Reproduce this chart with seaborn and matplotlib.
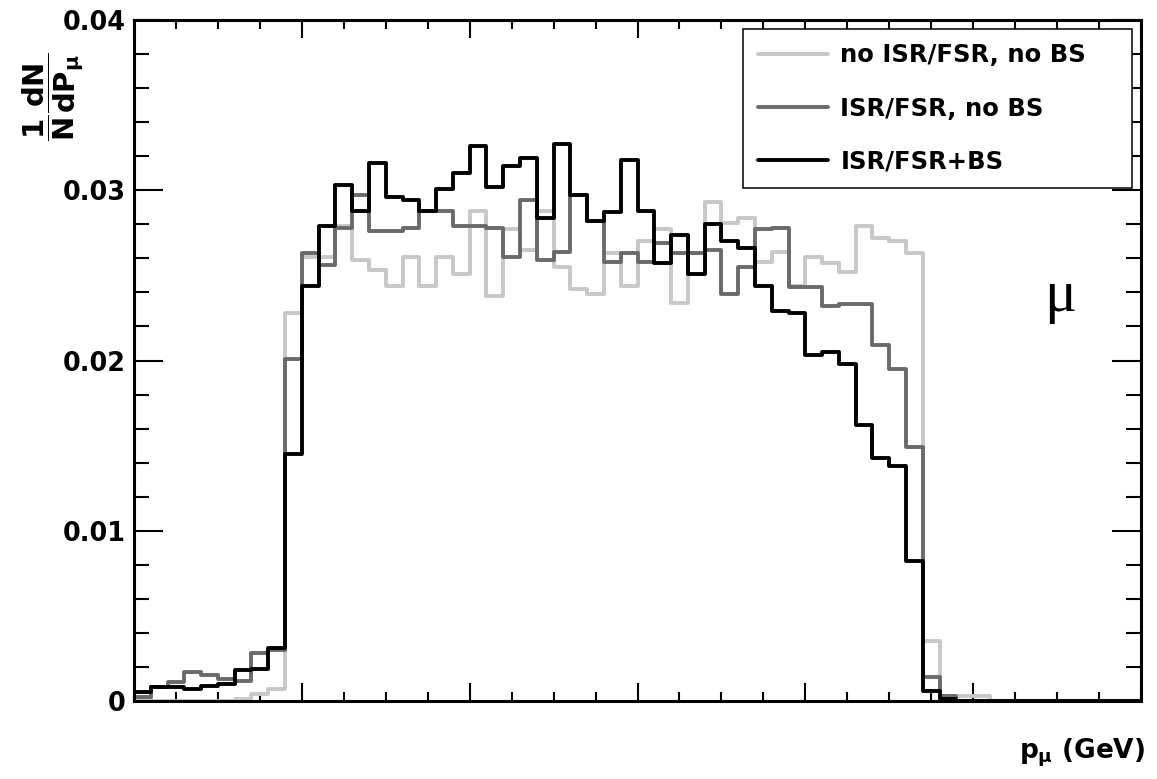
import numpy as np
import pandas as pd
import matplotlib
matplotlib.use("Agg")
import matplotlib.pyplot as plt
from matplotlib.lines import Line2D
from matplotlib.ticker import MultipleLocator
import seaborn as sns

# ---------------- data (bin contents) ----------------
bin_edges = list(range(0, 61))

no_isr_no_bs = [0.0002, 0.0, 0.0, 0.0, 0.0, 0.0, 0.0001, 0.0004, 0.0007, 0.0228,
                0.0261, 0.0261, 0.0279, 0.0259, 0.0253, 0.0244, 0.0261, 0.0244, 0.0261, 0.0251,
                0.0288, 0.0238, 0.0277, 0.0265, 0.0288, 0.0255, 0.0242, 0.0239, 0.0263, 0.0244,
                0.0270, 0.0277, 0.0234, 0.0263, 0.0293, 0.0281, 0.0284, 0.0258, 0.0264, 0.0244,
                0.0261, 0.0257, 0.0252, 0.0279, 0.0272, 0.0270, 0.0263, 0.0035, 0.0003, 0.0003,
                0.0003, 0.0, 0.0, 0.0, 0.0, 0.0, 0.0, 0.0, 0.0, 0.0]

isr_no_bs = [0.00025, 0.0008, 0.0011, 0.0017, 0.0015, 0.0013, 0.0012, 0.0028, 0.0030, 0.0201,
             0.0263, 0.0256, 0.0278, 0.0297, 0.0276, 0.0276, 0.0278, 0.0288, 0.0288, 0.0279,
             0.0279, 0.0278, 0.0261, 0.0294, 0.0259, 0.0264, 0.0297, 0.0282, 0.0258, 0.0263,
             0.0258, 0.0269, 0.0263, 0.0263, 0.0265, 0.0239, 0.0255, 0.0277, 0.0278, 0.0243,
             0.0243, 0.0232, 0.0233, 0.0233, 0.0209, 0.0195, 0.0149, 0.0014, 0.0003, 0.0,
             0.0, 0.0, 0.0, 0.0, 0.0, 0.0, 0.0, 0.0, 0.0, 0.0]

isr_bs = [0.00055, 0.0008, 0.0008, 0.0007, 0.0009, 0.0010, 0.0018, 0.0019, 0.0031, 0.0145,
          0.0244, 0.0279, 0.0303, 0.0288, 0.0316, 0.0296, 0.0294, 0.0288, 0.0301, 0.0310,
          0.0326, 0.0302, 0.0314, 0.0319, 0.0284, 0.0327, 0.0297, 0.0282, 0.0287, 0.0318,
          0.0288, 0.0257, 0.0274, 0.0251, 0.0280, 0.0270, 0.0266, 0.0244, 0.0229, 0.0228,
          0.0203, 0.0205, 0.0198, 0.0162, 0.0143, 0.0138, 0.0082, 0.0006, 0.0001, 0.0,
          0.0, 0.0, 0.0, 0.0, 0.0, 0.0, 0.0, 0.0, 0.0, 0.0]

series_labels = ["no ISR/FSR, no BS", "ISR/FSR, no BS", "ISR/FSR+BS"]
y_tick_values = [0, 0.01, 0.02, 0.03, 0.04]
y_tick_labels = ["0", "0.01", "0.02", "0.03", "0.04"]

# ---------------- style ----------------
sns.set_style("ticks")
plt.rcParams["font.family"] = ["DejaVu Sans"]
plt.rcParams["font.weight"] = "bold"
plt.rcParams["text.color"] = "black"
plt.rcParams["axes.labelcolor"] = "black"
plt.rcParams["xtick.color"] = "black"
plt.rcParams["ytick.color"] = "black"
plt.rcParams["mathtext.fontset"] = "custom"
plt.rcParams["mathtext.rm"] = "DejaVu Sans:bold"
plt.rcParams["mathtext.it"] = "DejaVu Sans:bold"
plt.rcParams["mathtext.bf"] = "DejaVu Sans:bold"

colors = ["#c8c8c8", "#6a6a6a", "#000000"]

edges_arr = np.array(bin_edges, dtype=float)
centers = (edges_arr[:-1] + edges_arr[1:]) / 2
df = pd.DataFrame({
    "p": np.tile(centers, 3),
    "w": np.concatenate([no_isr_no_bs, isr_no_bs, isr_bs]),
    "series": np.repeat(series_labels, len(centers)),
})

fig = plt.figure(figsize=(11.57, 7.79), dpi=100)
ax = fig.add_axes([0.1158, 0.1001, 0.8704, 0.8742])

for lab, col in zip(series_labels, colors):
    sns.histplot(data=df[df["series"] == lab], x="p", weights="w", bins=bin_edges,
                 element="step", fill=False, color=col, linewidth=2.8, ax=ax)

ax.set_xlim(0, 60)
ax.set_ylim(0, 0.04)
ax.set_xlabel("")
ax.set_ylabel("")

ax.xaxis.set_major_locator(MultipleLocator(10))
ax.xaxis.set_minor_locator(MultipleLocator(2.5))
ax.set_yticks(y_tick_values)
ax.set_yticklabels(y_tick_labels)
ax.yaxis.set_minor_locator(MultipleLocator(0.002))

ax.tick_params(axis="both", which="both", direction="in", top=True, right=True,
               labelbottom=False, width=1.5, color="black", labelcolor="black")
ax.tick_params(axis="x", which="major", length=13)
ax.tick_params(axis="x", which="minor", length=6.5)
ax.tick_params(axis="y", which="major", length=21, labelsize=18.4, pad=6)
ax.tick_params(axis="y", which="minor", length=11)
for lbl in ax.get_yticklabels():
    lbl.set_fontweight("bold")
    lbl.set_color("black")

for sp in ax.spines.values():
    sp.set_linewidth(2.2)
    sp.set_color("black")

# legend
handles = [Line2D([], [], color=c, lw=2.8) for c in colors]
leg = ax.legend(handles, series_labels, loc="upper left",
                bbox_to_anchor=(0.605, 0.987, 0.386, 0), mode="expand",
                borderaxespad=0, borderpad=0.6, labelspacing=1.2,
                handlelength=2.9, handletextpad=0.5, fancybox=False,
                framealpha=1, prop={"size": 17.5, "weight": "bold"})
leg.get_frame().set_edgecolor("black")
leg.get_frame().set_linewidth(1.1)
for t in leg.get_texts():
    t.set_color("black")

# labels
fig.text(0.0458, 0.8755, r"$\dfrac{1}{N}\dfrac{dN}{dP_{\mu}}$", rotation=90,
         ha="center", va="center", fontsize=21, color="black")
fig.text(0.9896, 0.0330, r"$p_{\mu}$ (GeV)", ha="right", va="center",
         fontsize=19, fontweight="bold", color="black")
ax.text(0.920, 0.5727, "μ", transform=ax.transAxes, ha="center", va="baseline",
        fontsize=43, family="Liberation Serif", fontweight="normal", color="black")

fig.savefig("out.png", dpi=100)
